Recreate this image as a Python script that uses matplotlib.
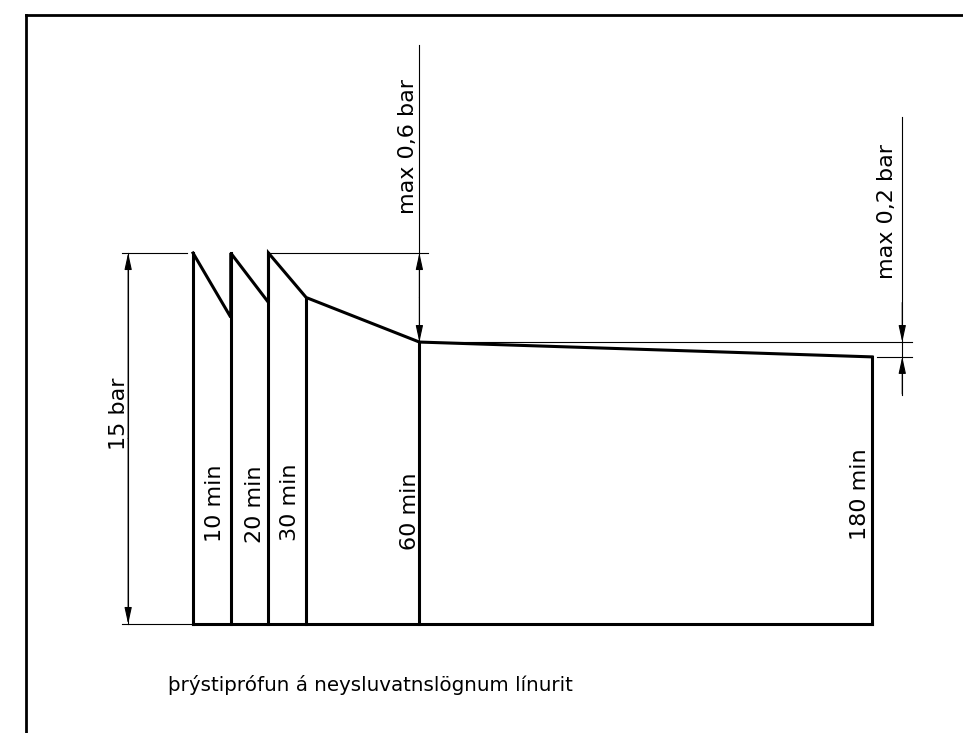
import matplotlib
matplotlib.use("Agg")
import matplotlib.pyplot as plt
from matplotlib.lines import Line2D

# pressure test sketch: time in minutes, pressure in schematic drawing units
# (the drop heights in the drawing are not to scale)
seg_t = [0, 10, 10, 20, 20, 30, 60, 180]
seg_p = [15, 12.4, 15, 13.0, 15, 13.2, 11.4, 10.8]
mark_t = [0, 10, 20, 30, 60, 180]
mark_top = [15, 15, 15, 13.2, 11.4, 10.8]
time_labels = ["10 min", "20 min", "30 min", "60 min", "180 min"]
test_label = "15 bar"
drop_labels = ["max 0,6 bar", "max 0,2 bar"]
caption = "þrýstiprófun á neysluvatnslögnum línurit"

INK = "black"
THICK = 2.2
THIN = 0.8

fig = plt.figure(figsize=(9.63, 7.33), dpi=100)
ax = fig.add_axes([0, 0, 1, 1])
ax.set_xlim(-51.17, 204.1)
ax.set_ylim(-4.407, 25.23)
ax.axis("off")

# drawing frame (left and top edge only)
fig.add_artist(Line2D([26 / 963, 26 / 963], [0, 1 - 15 / 733], color=INK, lw=2))
fig.add_artist(Line2D([26 / 963, 1], [1 - 15 / 733, 1 - 15 / 733], color=INK, lw=2))

# the pressure curve and outline
ax.plot(seg_t, seg_p, color=INK, lw=THICK, solid_joinstyle="miter")
ax.plot([mark_t[0], mark_t[-1]], [0, 0], color=INK, lw=THICK)
for t, top in zip(mark_t, mark_top):
    ax.plot([t, t], [0, top], color=INK, lw=THICK)

# time labels left of each vertical
lab_x = [5.8, 16.4, 25.7, 57.5, 176.8]
lab_y = [4.9, 4.85, 4.93, 4.55, 5.26]
for x, y, s in zip(lab_x, lab_y, time_labels):
    ax.text(x, y, s, rotation=90, ha="center", va="center", fontsize=16)


def arrow_to(x, y_from, y_to):
    ax.annotate("", xy=(x, y_to), xytext=(x, y_from),
                arrowprops=dict(arrowstyle="-|>,head_length=10,head_width=2.2",
                                mutation_scale=1, color=INK, lw=THIN,
                                shrinkA=0, shrinkB=0))


# 15 bar dimension
xd = -17.2
ax.plot([-18.8, -1.6], [15, 15], color=INK, lw=THIN)
ax.plot([-18.8, 0], [0, 0], color=INK, lw=THIN)
ax.plot([xd, xd], [0, 15], color=INK, lw=THIN)
arrow_to(xd, 7.5, 15)
arrow_to(xd, 7.5, 0)
ax.text(-19.6, 8.5, test_label, rotation=90, ha="center", va="center", fontsize=16)

# max 0,6 bar dimension
ax.plot([20.4, 62.3], [15, 15], color=INK, lw=THIN)
ax.plot([60, 60], [11.4, 23.41], color=INK, lw=THIN)
arrow_to(60, 13.2, 15)
arrow_to(60, 13.2, 11.4)
ax.text(57.0, 19.29, drop_labels[0], rotation=90, ha="center", va="center",
        fontsize=16)

# max 0,2 bar dimension (arrows from outside)
xd2 = 188.0
ax.plot([60, 190.6], [11.4, 11.4], color=INK, lw=THIN)
ax.plot([181.3, 190.6], [10.8, 10.8], color=INK, lw=THIN)
ax.plot([xd2, xd2], [9.26, 20.5], color=INK, lw=THIN)
arrow_to(xd2, 13.0, 11.4)
arrow_to(xd2, 9.3, 10.8)
ax.text(184.0, 16.66, drop_labels[1], rotation=90, ha="center", va="center",
        fontsize=16)

ax.text(-6.6, -2.47, caption, ha="left", va="center", fontsize=14.3)

fig.savefig("out.png", dpi=100)
